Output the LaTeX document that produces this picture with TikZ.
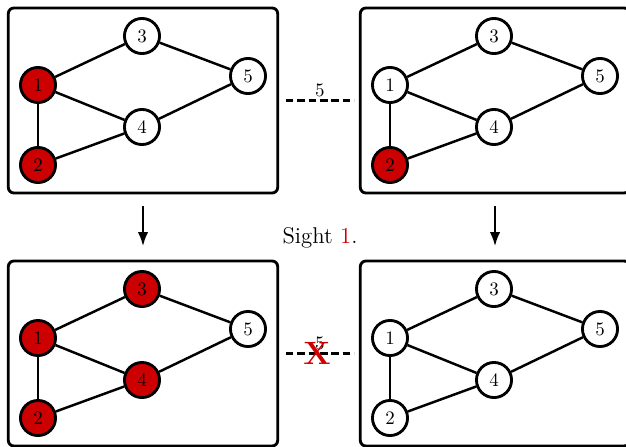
\documentclass[tikz,border=0pt]{standalone}
\usepackage{tikz}
\usetikzlibrary{arrows.meta}
\usepackage{xcolor}

\definecolor{hitred}{HTML}{CC0000}

\tikzset{
  vtx/.style={circle,draw,line width=1.5pt,fill=white,minimum size=18.5pt,inner sep=0pt},
  hit/.style={vtx,fill=hitred},
  box/.style={draw,line width=1.5pt,rounded corners=3pt,minimum width=142pt,minimum height=97.5pt},
  edge/.style={line width=1.3pt}
}

% one panel: #1 name prefix, #2 top-left corner, #3..#7 styles of vertices 1..5
\newcommand{\graphpanel}[7]{
  \begin{scope}[shift={#2}]
    \node[box] (#1) at (135,92.5) {};
    \node[#3] (#1-1) at (30,77) {1};
    \node[#4] (#1-2) at (30,157) {2};
    \node[#5] (#1-3) at (134,28) {3};
    \node[#6] (#1-4) at (134,119) {4};
    \node[#7] (#1-5) at (240,68) {5};
    \draw[edge] (#1-1) -- (#1-2);
    \draw[edge] (#1-1) -- (#1-3);
    \draw[edge] (#1-1) -- (#1-4);
    \draw[edge] (#1-2) -- (#1-4);
    \draw[edge] (#1-3) -- (#1-5);
    \draw[edge] (#1-4) -- (#1-5);
  \end{scope}
}

\begin{document}
\begin{tikzpicture}[x=0.527pt,y=-0.527pt,->,>={Latex[length=7.5pt,width=5.5pt]}]
  \useasboundingbox (0,0) rectangle (626,446);

  \begin{scope}[-]
    \graphpanel{tl}{(8,8)}{hit}{hit}{vtx}{vtx}{vtx}
    \graphpanel{tr}{(360,8)}{vtx}{hit}{vtx}{vtx}{vtx}
    \graphpanel{bl}{(8,261)}{hit}{hit}{hit}{hit}{vtx}
    \graphpanel{br}{(360,261)}{vtx}{vtx}{vtx}{vtx}{vtx}

    % links between the panels
    \draw[line width=1.4pt,dash pattern=on 4pt off 2pt]
      ([xshift=3.5pt]tl.east) -- node[above,inner sep=1pt] (w1) {5} ([xshift=-2.5pt]tr.west);
    \draw[line width=1.4pt,dash pattern=on 4pt off 2pt]
      ([xshift=3.5pt]bl.east) -- node[above,inner sep=1pt] (w2) {5} ([xshift=-2.5pt]br.west);
    \node[text=hitred,font=\fontsize{17}{17}\selectfont\bfseries] (cut) at (317,353) {X};
  \end{scope}

  \draw[line width=1.2pt] ([yshift=-6pt]tl.south) -- ([yshift=7pt]bl.north);
  \draw[line width=1.2pt] ([yshift=-6pt]tr.south) -- ([yshift=7pt]br.north);

  \node[font=\large] (sight) at (320,238) {Sight \textcolor{hitred}{1}.};
\end{tikzpicture}
\end{document}
